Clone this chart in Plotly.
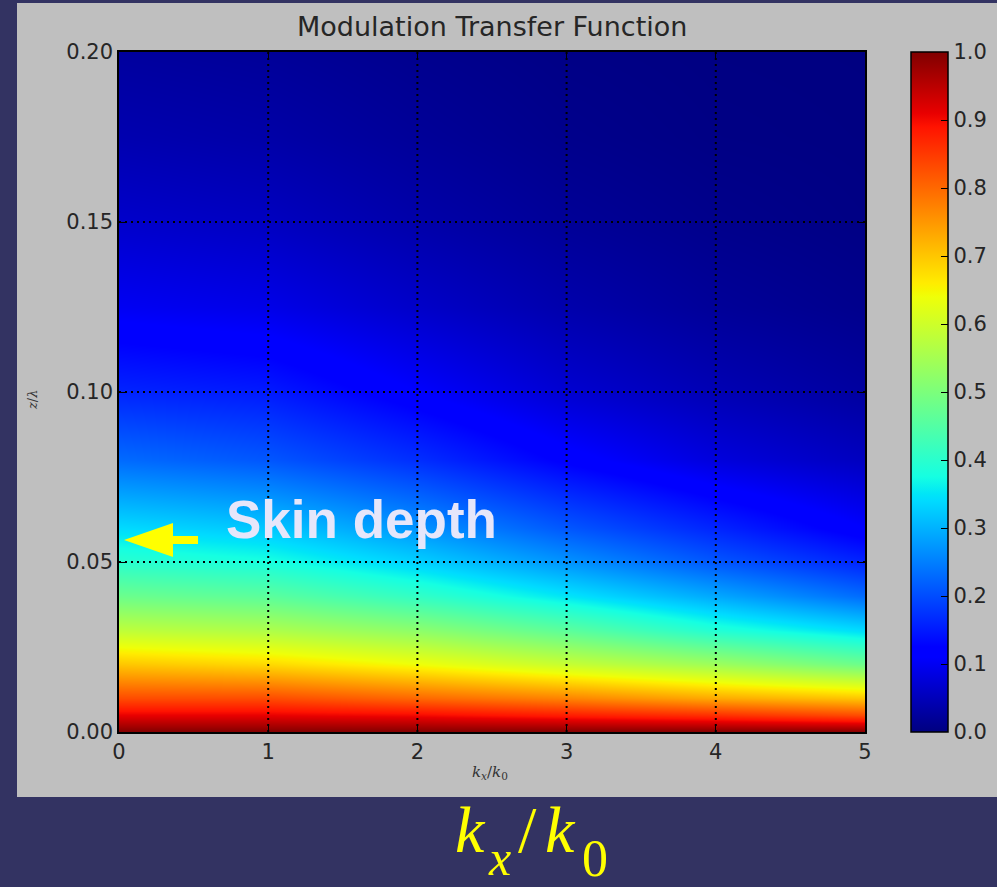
import numpy as np
import plotly.graph_objects as go

# ---- data -------------------------------------------------------------
kx = [0, 1, 2, 3, 4, 5]                      # k_x / k_0
z = [0.0, 0.005, 0.01, 0.02, 0.03, 0.04, 0.05, 0.06,
     0.08, 0.10, 0.125, 0.15, 0.175, 0.20]   # z / lambda

# modulation transfer function, one row per z value, one column per kx
mtf = [
    [1.00, 1.00, 1.00, 1.00, 1.00, 1.00],
    [0.91, 0.91, 0.90, 0.88, 0.86, 0.83],
    [0.83, 0.83, 0.80, 0.77, 0.73, 0.70],
    [0.70, 0.68, 0.64, 0.59, 0.54, 0.48],
    [0.58, 0.56, 0.52, 0.46, 0.39, 0.34],
    [0.48, 0.46, 0.41, 0.35, 0.29, 0.23],
    [0.40, 0.38, 0.33, 0.27, 0.21, 0.16],
    [0.34, 0.32, 0.27, 0.21, 0.16, 0.11],
    [0.23, 0.21, 0.17, 0.12, 0.08, 0.055],
    [0.16, 0.15, 0.11, 0.07, 0.045, 0.027],
    [0.10, 0.09, 0.063, 0.038, 0.021, 0.011],
    [0.065, 0.056, 0.036, 0.020, 0.010, 0.004],
    [0.041, 0.034, 0.021, 0.010, 0.004, 0.002],
    [0.026, 0.021, 0.012, 0.005, 0.002, 0.001],
]

x_ticks = [0, 1, 2, 3, 4, 5]
y_ticks = [0.00, 0.05, 0.10, 0.15, 0.20]
cbar_ticks = [0.0, 0.1, 0.2, 0.3, 0.4, 0.5, 0.6, 0.7, 0.8, 0.9, 1.0]
skin_depth = 0.0565

# ---- jet colour map (matplotlib segment definition) -------------------
red_seg = [(0, 0), (0.35, 0), (0.66, 1), (0.89, 1), (1, 0.5)]
green_seg = [(0, 0), (0.125, 0), (0.375, 1), (0.64, 1), (0.91, 0), (1, 0)]
blue_seg = [(0, 0.5), (0.11, 1), (0.34, 1), (0.65, 0), (1, 0)]


def channel(seg, t):
    xs, vs = zip(*seg)
    return np.interp(t, xs, vs)


stops = sorted({p for seg in (red_seg, green_seg, blue_seg) for p, _ in seg})
jet = []
for s in stops:
    r, g, b = (int(round(255 * channel(seg, s))) for seg in (red_seg, green_seg, blue_seg))
    jet.append([s, f"rgb({r},{g},{b})"])

# ---- geometry (pixels) ------------------------------------------------
W, H = 997, 887
PL, PR, PT, PB = 119, 865, 52, 732       # plot area
NAVY = "#333362"
PANEL = "#bfbfbf"
TXT = "#262626"


def px(x):
    return x / W


def py(y):
    return 1 - y / H


fig = go.Figure()

fig.add_trace(go.Heatmap(
    x=kx, y=z, z=mtf,
    zmin=0, zmax=1,
    zsmooth="best",
    colorscale=jet,
    colorbar=dict(
        x=px(911), xanchor="left",
        y=py(PT), yanchor="top",
        len=PB - PT, lenmode="pixels",
        thickness=37, thicknessmode="pixels",
        outlinecolor="black", outlinewidth=1.5,
        tickvals=cbar_ticks, tickformat=".1f",
        ticks="inside", ticklen=7, tickcolor="black", tickwidth=1,
        tickfont=dict(family="DejaVu Sans", size=21, color=TXT),
        ypad=0, xpad=0,
    ),
    hoverinfo="skip",
))

axis_common = dict(
    showgrid=False, zeroline=False,
    showline=True, linecolor="black", linewidth=1.5, mirror="ticks",
    ticks="inside", ticklen=6, tickcolor="black",
    tickfont=dict(family="DejaVu Sans", size=21, color=TXT),
)

fig.update_xaxes(
    domain=[px(PL), px(PR)], range=[0, 5],
    tickvals=x_ticks, ticktext=[str(v) for v in x_ticks],
    **axis_common,
)
fig.update_yaxes(
    domain=[py(PB), py(PT)], range=[0, 0.2],
    tickvals=y_ticks, tickformat=".2f",
    **axis_common,
)

shapes = [
    # grey figure panel
    dict(type="rect", xref="paper", yref="paper",
         x0=px(17), x1=1, y0=py(797), y1=py(3),
         fillcolor=PANEL, line=dict(width=0), layer="below"),
]
# dotted grid drawn over the image
for v in x_ticks[1:-1]:
    shapes.append(dict(type="line", xref="x", yref="y domain",
                       x0=v, x1=v, y0=0, y1=1, layer="above",
                       line=dict(color="black", width=2, dash="2px,4px")))
for v in y_ticks[1:-1]:
    shapes.append(dict(type="line", xref="x domain", yref="y",
                       x0=0, x1=1, y0=v, y1=v, layer="above",
                       line=dict(color="black", width=2, dash="2px,4px")))
# yellow arrow pointing at the skin depth on the z axis
shapes.append(dict(
    type="path", xref="x", yref="y",
    xsizemode="pixel", ysizemode="pixel",
    xanchor=0, yanchor=skin_depth,
    path="M 5,0 L 54,17 L 54,4 L 79,4 L 79,-4 L 54,-4 L 54,-17 Z",
    fillcolor="#ffff00", line=dict(width=0), layer="above",
))


def label(text, x, y, size, family, color, xanchor="center", angle=0):
    return dict(text=text, xref="paper", yref="paper",
                x=px(x), y=py(y), xanchor=xanchor, yanchor="middle",
                textangle=angle, showarrow=False,
                font=dict(family=family, size=size, color=color))


YEL = "#ffff00"
SERIF = "Liberation Serif"
annotations = [
    label("Modulation Transfer Function", 492, 27, 27, "DejaVu Sans", TXT),
    label("<i>k<sub>x</sub></i>/<i>k</i><sub>0</sub>", 490, 772, 15, "DejaVu Serif", "#333333"),
    label("<i>z</i>/<i>λ</i>", 33, 400, 13, "DejaVu Serif", "#333333", angle=-90),
    label("<b>Skin depth</b>", 361, 519, 53, "Liberation Sans", "#e6e6fa"),
    # large yellow k_x / k_0 caption below the panel
    label("<i>k</i>", 453, 829, 66, SERIF, YEL, xanchor="left"),
    label("<i>x</i>", 486, 858, 50, SERIF, YEL, xanchor="left"),
    label("/", 516, 829, 66, SERIF, YEL, xanchor="left"),
    label("<i>k</i>", 543, 829, 66, SERIF, YEL, xanchor="left"),
    label("0", 580, 858, 52, SERIF, YEL, xanchor="left"),
]

fig.update_layout(
    width=W, height=H,
    margin=dict(l=0, r=0, t=0, b=0, autoexpand=False),
    paper_bgcolor=NAVY, plot_bgcolor=PANEL,
    shapes=shapes, annotations=annotations,
    showlegend=False,
)

fig.write_html("out.html")
